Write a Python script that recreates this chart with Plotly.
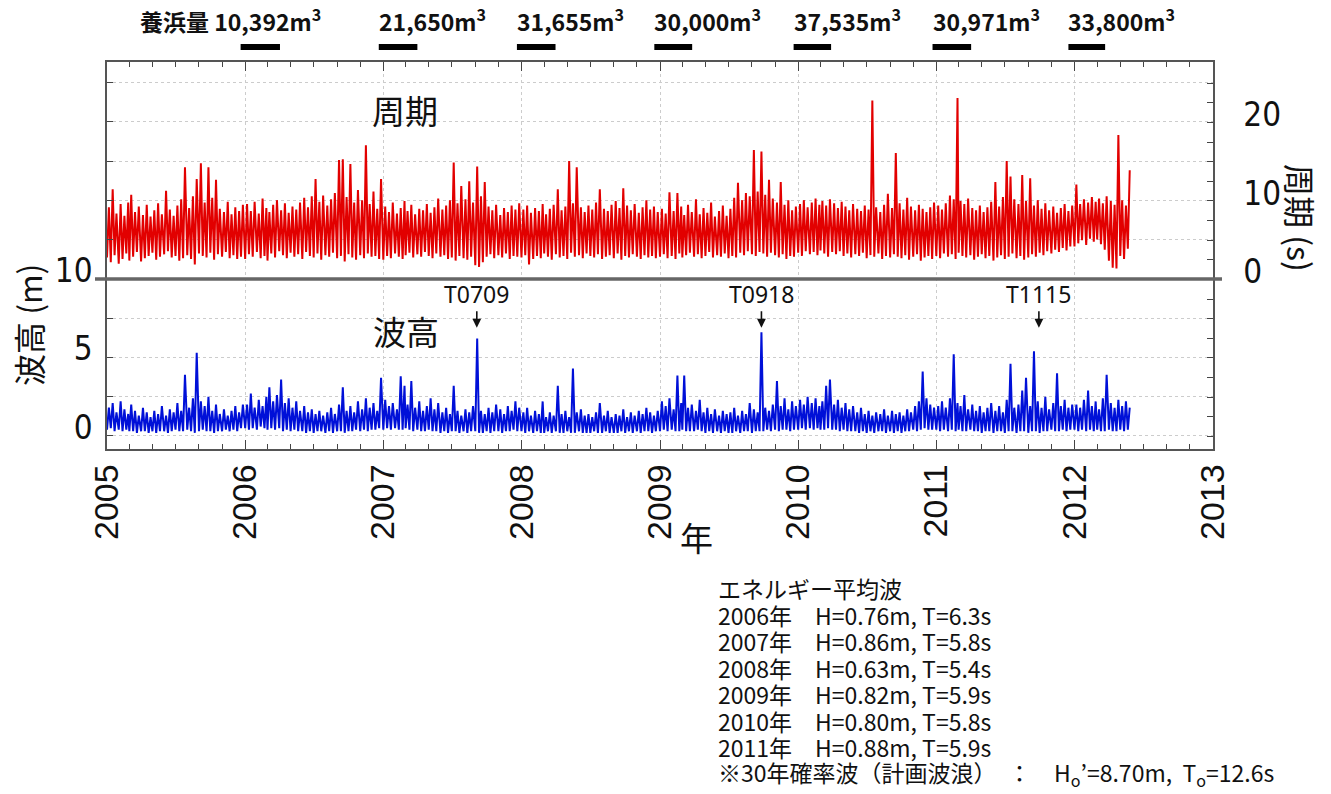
import plotly.graph_objects as go
import pandas as pd

# ---------------- data (10-day bins, Jan 2005 - May 2012) ----------------
# wave period (s): upper / lower envelope of each 10-day bin
period_hi = [
    9.2, 11.5, 8.4, 9.6, 8.1, 9.8, 10.8, 8.6, 9.3, 8.2, 9.5, 8.0, 8.8, 9.7, 8.3, 11.3, 8.9, 8.1, 9.4, 10.2, 14.3, 9.1, 10.6, 12.8, 14.8, 9.8, 14.3, 10.4, 12.7, 9.0, 8.6, 9.9, 8.3, 9.2, 8.7, 9.5,  # 2005
    9.6, 8.7, 9.9, 8.4, 10.3, 9.1, 8.6, 9.5, 10.1, 8.8, 9.7, 8.5, 9.3, 8.9, 9.8, 10.4, 9.2, 10.6, 12.8, 9.9, 10.7, 9.4, 10.2, 11.0, 15.2, 15.3, 10.5, 14.7, 9.8, 11.4, 10.1, 17.1, 9.6, 11.2, 9.0, 12.8,  # 2006
    9.3, 8.6, 9.8, 8.4, 9.1, 10.0, 8.7, 9.5, 8.3, 9.0, 8.8, 9.6, 8.5, 9.2, 10.3, 8.9, 9.4, 10.1, 14.9, 9.7, 11.9, 10.2, 12.5, 9.8, 14.4, 10.6, 12.4, 9.3, 8.8, 9.5, 8.2, 9.1, 8.6, 9.4, 8.9, 9.7,  # 2007
    8.9, 9.4, 8.5, 9.1, 8.7, 9.6, 8.3, 9.0, 9.5, 11.5, 8.8, 9.3, 15.1, 9.7, 14.3, 9.2, 8.6, 9.4, 8.9, 9.8, 11.5, 9.0, 8.7, 9.5, 10.0, 9.1, 11.6, 9.4, 8.8, 9.6, 8.5, 9.2, 10.1, 8.9, 9.3, 8.6,  # 2008
    9.0, 8.4, 11.1, 8.7, 11.0, 9.3, 8.2, 9.5, 8.6, 10.2, 8.3, 9.1, 8.5, 9.8, 8.0, 8.7, 9.4, 8.1, 9.0, 10.4, 12.3, 10.1, 11.0, 10.6, 16.5, 11.2, 16.3, 10.8, 12.7, 10.3, 9.8, 12.4, 9.5, 10.1, 8.8, 9.3,  # 2009
    9.6, 10.1, 9.2, 9.8, 10.3, 9.5, 10.0, 9.4, 10.2, 9.7, 9.1, 9.9, 9.3, 8.8, 9.6, 9.0, 8.7, 9.4, 8.9, 22.8, 9.2, 8.6, 9.5, 10.9, 9.1, 16.1, 9.7, 8.9, 10.4, 9.3, 8.8, 9.5, 9.0, 8.6, 9.2, 9.8,  # 2010
    9.4, 8.9, 9.7, 10.7, 10.2, 23.1, 10.0, 9.6, 10.3, 9.1, 8.8, 9.4, 8.6, 9.2, 9.9, 12.4, 9.3, 10.5, 15.1, 13.1, 10.2, 9.6, 13.3, 10.0, 12.9, 9.4, 10.1, 9.0, 9.7, 8.8, 9.3, 8.5, 9.1, 9.6, 8.7, 9.4,  # 2011
    12.1, 9.6, 10.2, 9.8, 10.5, 9.9, 10.3, 9.7, 10.6, 10.0, 9.5, 18.4, 10.1, 9.4, 13.9,  # 2012
]
period_lo = [
    2.8, 2.2, 3.1, 2.0, 2.6, 3.3, 2.4, 2.9, 3.5, 2.3, 2.7, 3.0, 3.4, 2.5, 2.9, 3.2, 3.6, 2.8, 3.0, 2.4, 2.7, 3.1, 2.6, 1.9, 3.3, 3.0, 2.8, 3.4, 2.5, 3.2, 2.9, 3.5, 2.7, 3.1, 2.6, 2.9,
    2.6, 3.2, 2.9, 3.5, 2.7, 3.0, 2.4, 3.3, 2.8, 3.6, 3.1, 2.7, 3.4, 2.9, 3.2, 2.6, 3.5, 3.0, 2.8, 3.3, 2.5, 3.1, 2.9, 3.4, 2.7, 3.0, 2.3, 3.2, 2.8, 2.5, 3.1, 2.7, 3.3, 2.9, 3.0, 2.6,
    2.5, 3.0, 2.7, 3.3, 2.9, 2.6, 3.1, 3.4, 2.8, 3.2, 2.9, 3.5, 3.0, 2.7, 3.3, 2.9, 3.1, 2.6, 2.8, 2.4, 3.0, 2.7, 2.5, 2.9, 1.8, 1.6, 2.2, 2.9, 3.2, 2.7, 3.1, 2.8, 3.3, 2.6, 3.0, 2.9,
    2.8, 3.1, 1.9, 2.6, 3.0, 2.7, 3.3, 2.9, 2.5, 3.2, 2.8, 3.0, 2.6, 3.4, 2.9, 3.1, 2.7, 3.3, 3.0, 2.8, 3.2, 2.6, 2.9, 3.1, 2.7, 3.3, 2.5, 3.0, 2.8, 3.2, 2.9, 2.6, 3.1, 2.8, 3.0, 2.7,
    2.9, 3.2, 2.7, 3.0, 2.6, 3.3, 2.8, 3.1, 3.4, 2.9, 3.2, 2.7, 3.0, 3.5, 2.8, 3.1, 2.9, 3.3, 2.7, 3.0, 2.8, 3.4, 3.1, 3.6, 3.2, 3.0, 3.5, 3.3, 2.9, 3.4, 3.1, 2.8, 3.2, 2.6, 3.0, 2.9,
    3.4, 3.0, 3.6, 3.2, 3.5, 3.1, 3.7, 3.3, 2.9, 3.5, 3.2, 3.6, 3.0, 3.3, 2.8, 3.2, 3.0, 3.4, 2.7, 3.1, 2.9, 3.3, 2.6, 3.0, 2.8, 3.2, 2.9, 2.7, 3.1, 2.5, 2.9, 3.2, 2.4, 2.8, 3.0, 2.6,
    3.0, 2.7, 3.3, 2.9, 3.2, 2.6, 3.4, 3.0, 2.8, 3.1, 2.5, 2.9, 3.2, 2.7, 3.0, 2.4, 2.8, 3.1, 2.6, 2.9, 3.3, 2.7, 3.0, 2.5, 2.8, 3.2, 2.9, 3.4, 3.1, 3.6, 3.3, 3.8, 3.5, 4.0, 3.7, 4.2,
    4.2, 4.6, 5.0, 4.4, 5.2, 4.8, 5.1, 4.5, 3.8, 2.4, 1.5, 1.4, 3.0, 2.6, 3.9,
]
# wave height (m): upper / lower envelope of each 10-day bin
height_hi = [
    1.8, 2.1, 1.5, 2.2, 1.7, 1.4, 2.0, 1.6, 1.3, 1.8, 1.5, 1.2, 1.6, 1.4, 1.9, 1.3, 1.7, 1.5, 2.1, 1.6, 3.9, 1.8, 2.4, 5.3, 2.2, 1.9, 2.5, 1.6, 2.0, 1.4, 1.7, 1.3, 1.6, 1.9, 1.5, 2.0,
    2.0, 2.7, 1.8, 2.3, 1.9, 2.5, 3.1, 2.2, 2.6, 3.6, 2.1, 2.4, 1.8, 2.2, 1.6, 1.9, 1.5, 1.7, 1.4, 1.6, 1.3, 1.5, 1.8, 1.4, 2.0, 3.1, 1.6, 1.9, 1.5, 2.2, 1.7, 2.4, 1.8, 2.1, 1.6, 3.7,
    2.3, 1.9, 2.1, 1.7, 3.8, 3.2, 2.0, 3.5, 1.8, 2.2, 1.6, 1.9, 2.4, 1.7, 2.1, 1.5, 1.8, 1.4, 3.2, 1.6, 1.3, 1.7, 1.5, 1.9, 6.2, 1.6, 1.4, 1.8, 1.5, 2.0, 1.7, 1.4, 1.9, 1.6, 2.2, 1.8,
    1.5, 1.8, 1.3, 1.6, 1.4, 2.2, 1.2, 1.5, 1.3, 3.2, 1.4, 1.6, 1.2, 4.3, 1.5, 1.7, 1.3, 1.4, 1.2, 1.5, 2.1, 1.3, 1.6, 1.2, 1.4, 1.3, 1.7, 1.2, 1.5, 1.3, 1.6, 1.4, 1.8, 1.5, 1.3, 1.6,
    2.2, 1.9, 2.4, 1.7, 3.85, 2.1, 3.85, 1.8, 2.0, 1.6, 2.3, 1.5, 1.8, 1.4, 1.7, 1.3, 1.6, 1.4, 1.5, 1.8, 1.3, 1.6, 1.4, 2.1, 1.7, 1.5, 6.6, 1.8, 1.6, 2.0, 3.5, 1.9, 2.4, 1.7, 2.2, 1.9,
    2.3, 2.0, 2.5, 2.1, 2.4, 1.9, 2.2, 3.2, 3.6, 2.0, 2.3, 1.8, 2.1, 1.7, 1.9, 1.5, 1.8, 1.4, 1.6, 1.3, 1.5, 1.4, 1.7, 1.3, 1.6, 1.4, 1.5, 1.3, 1.7, 1.5, 1.9, 2.2, 4.1, 2.4, 2.0, 1.8,
    1.9, 2.2, 1.8, 2.4, 5.2, 2.1, 1.9, 2.6, 1.7, 2.0, 1.6, 1.9, 1.5, 1.8, 2.1, 1.6, 1.9, 1.5, 2.3, 4.6, 1.8, 2.0, 2.9, 3.7, 1.9, 5.4, 2.2, 1.8, 2.5, 1.7, 2.1, 4.0, 1.9, 2.3, 1.8, 2.0,
    2.0, 1.8, 2.3, 2.9, 1.9, 2.2, 1.7, 2.4, 3.9, 2.1, 1.8, 2.3, 1.9, 2.2, 1.8,
]
height_lo = [
    0.4, 0.5, 0.3, 0.4, 0.3, 0.4, 0.3, 0.3, 0.2, 0.3, 0.3, 0.2, 0.3, 0.2, 0.3, 0.3, 0.2, 0.3, 0.4, 0.3, 0.3, 0.4, 0.3, 0.2, 0.3, 0.4, 0.3, 0.3, 0.2, 0.3, 0.3, 0.4, 0.3, 0.4, 0.3, 0.5,
    0.5, 0.4, 0.5, 0.4, 0.6, 0.5, 0.4, 0.5, 0.4, 0.5, 0.3, 0.4, 0.3, 0.4, 0.3, 0.3, 0.2, 0.3, 0.2, 0.3, 0.3, 0.2, 0.3, 0.2, 0.3, 0.3, 0.2, 0.3, 0.3, 0.4, 0.3, 0.4, 0.3, 0.4, 0.4, 0.5,
    0.4, 0.5, 0.4, 0.5, 0.4, 0.4, 0.5, 0.4, 0.3, 0.4, 0.3, 0.3, 0.4, 0.3, 0.3, 0.2, 0.3, 0.2, 0.3, 0.3, 0.2, 0.3, 0.2, 0.3, 0.3, 0.2, 0.2, 0.3, 0.2, 0.3, 0.3, 0.2, 0.3, 0.3, 0.4, 0.3,
    0.3, 0.2, 0.3, 0.2, 0.3, 0.2, 0.2, 0.3, 0.2, 0.3, 0.2, 0.2, 0.3, 0.2, 0.2, 0.3, 0.2, 0.2, 0.2, 0.3, 0.2, 0.2, 0.3, 0.2, 0.2, 0.2, 0.3, 0.2, 0.3, 0.2, 0.3, 0.2, 0.3, 0.3, 0.2, 0.3,
    0.3, 0.4, 0.3, 0.4, 0.3, 0.3, 0.4, 0.3, 0.3, 0.3, 0.4, 0.3, 0.2, 0.3, 0.2, 0.3, 0.2, 0.3, 0.2, 0.2, 0.3, 0.2, 0.3, 0.3, 0.2, 0.3, 0.3, 0.3, 0.4, 0.3, 0.4, 0.3, 0.4, 0.4, 0.3, 0.4,
    0.4, 0.5, 0.4, 0.5, 0.4, 0.5, 0.4, 0.4, 0.5, 0.4, 0.4, 0.3, 0.4, 0.3, 0.3, 0.3, 0.2, 0.3, 0.2, 0.3, 0.2, 0.3, 0.3, 0.2, 0.3, 0.2, 0.3, 0.2, 0.3, 0.3, 0.4, 0.3, 0.4, 0.5, 0.4, 0.4,
    0.4, 0.3, 0.4, 0.3, 0.4, 0.3, 0.4, 0.3, 0.3, 0.4, 0.3, 0.3, 0.2, 0.3, 0.3, 0.2, 0.3, 0.3, 0.2, 0.3, 0.3, 0.2, 0.3, 0.3, 0.2, 0.3, 0.3, 0.2, 0.3, 0.3, 0.4, 0.3, 0.3, 0.4, 0.3, 0.4,
    0.4, 0.3, 0.4, 0.3, 0.4, 0.3, 0.4, 0.3, 0.3, 0.4, 0.3, 0.3, 0.4, 0.3, 0.4,
]

# beach nourishment campaigns
nourish_start = ["2005-12-20", "2006-12-20", "2007-12-20", "2008-12-17", "2009-12-20", "2010-12-22", "2011-12-16"]
nourish_end = ["2006-04-03", "2007-04-01", "2008-03-31", "2009-03-27", "2010-03-29", "2011-04-03", "2012-03-22"]
nourish_label = ["養浜量 10,392m<sup>3</sup>", "21,650m<sup>3</sup>", "31,655m<sup>3</sup>", "30,000m<sup>3</sup>",
                 "37,535m<sup>3</sup>", "30,971m<sup>3</sup>", "33,800m<sup>3</sup>"]

# typhoons
typhoon_name = ["T0709", "T0918", "T1115"]
typhoon_date = ["2007-09-05", "2009-09-26", "2011-09-29"]
typhoon_arrow_tip = [6.9, 6.9, 6.9]

energy_lines = [
    "エネルギー平均波",
    "2006年　H=0.76m, T=6.3s",
    "2007年　H=0.86m, T=5.8s",
    "2008年　H=0.63m, T=5.4s",
    "2009年　H=0.82m, T=5.9s",
    "2010年　H=0.80m, T=5.8s",
    "2011年　H=0.88m, T=5.9s",
    "※30年確率波（計画波浪）　：　H<sub>o</sub>’=8.70m,  T<sub>o</sub>=12.6s",
]

# ---------------- build traces ----------------
months = pd.date_range("2005-01-01", "2012-05-01", freq="MS")
bin_start = [m + pd.Timedelta(days=d) for m in months for d in (0, 10, 20)]
x_line = []
for s in bin_start:
    x_line += [s, s + pd.Timedelta(days=5)]


def zig(lo, hi):
    out = []
    for a, b in zip(lo, hi):
        out += [a, b]
    return out


W, H = 1331, 794
L, R, T, B = 107, 1213, 62, 449


def px(xp):
    return (xp - L) / (R - L)


def py(yp):
    return (B - yp) / (B - T)


JP = "Noto Sans CJK JP, Noto Sans, sans-serif"
NUM = "Liberation Sans Narrow, DejaVu Sans Condensed, Arial Narrow, sans-serif"
NUMX = "Liberation Sans, Arial, sans-serif"

fig = go.Figure()
fig.add_trace(go.Scatter(x=x_line, y=zig(period_lo, period_hi), mode="lines",
                         line=dict(color="#e20000", width=2.0), yaxis="y2", hoverinfo="skip"))
fig.add_trace(go.Scatter(x=x_line, y=zig(height_lo, height_hi), mode="lines",
                         line=dict(color="#0010d8", width=2.0), yaxis="y", hoverinfo="skip"))

h_ticks = [i * 2.5 for i in range(10)]
h_text = ["0" if v == 0 else ("5" if v == 5 else ("10" if v == 10 else "")) for v in h_ticks]
p_ticks = [-20 + i * 2.5 for i in range(19)]
p_text = ["0" if v == 0 else ("10" if v == 10 else ("20" if v == 20 else "")) for v in p_ticks]

fig.update_layout(
    width=W, height=H,
    margin=dict(l=L, r=W - R, t=T, b=H - B),
    paper_bgcolor="white", plot_bgcolor="white",
    showlegend=False,
    xaxis=dict(type="date", range=["2005-01-01", "2013-01-01"], dtick="M12", tick0="2005-01-01",
               tickformat="%Y", tickangle=-90, ticks="inside", ticklen=9, tickcolor="#444",
               showline=True, linecolor="#555", linewidth=1.5, mirror="ticks",
               showgrid=True, gridcolor="#cccccc", griddash="dot", gridwidth=1,
               minor=dict(dtick="M2", ticks="inside", ticklen=5, tickcolor="#444", showgrid=False),
               tickfont=dict(family=NUMX, size=34, color="#111"), zeroline=False),
    yaxis=dict(range=[-0.83, 23.82], tickmode="array", tickvals=h_ticks, ticktext=h_text,
               ticks="inside", ticklen=6, tickcolor="#444", showline=True, linecolor="#555", linewidth=1.5,
               showgrid=True, gridcolor="#cccccc", griddash="dot", zeroline=False,
               ticklabelshift=-9, ticklabelstandoff=6,
               tickfont=dict(family=NUM, size=33, color="#111")),
    yaxis2=dict(range=[-21.6, 27.7], overlaying="y", side="right", anchor="x", tickmode="array",
                tickvals=p_ticks, ticktext=p_text, ticks="inside", ticklen=6, tickcolor="#444",
                showline=True, linecolor="#555", linewidth=1.5, showgrid=False, zeroline=False,
                ticklabelshift=-8, ticklabelstandoff=22,
                tickfont=dict(family=NUM, size=33, color="#111")),
)

shapes = []
# separator between the two panels
shapes.append(dict(type="line", xref="paper", yref="y", x0=px(95), x1=px(1222), y0=10, y1=10,
                   line=dict(color="#666666", width=3.5)))
# nourishment bars
for s, e in zip(nourish_start, nourish_end):
    shapes.append(dict(type="rect", xref="x", yref="paper", x0=s, x1=e, y0=py(50), y1=py(44),
                       fillcolor="black", line=dict(width=0)))
fig.update_layout(shapes=shapes)

ann = []
for i, (s, lab) in enumerate(zip(nourish_start, nourish_label)):
    ann.append(dict(x=s, xref="x", y=py(20), yref="paper", text=lab, showarrow=False,
                    xanchor="left", yanchor="middle", xshift=(-103 if i == 0 else -2),
                    font=dict(family=JP, size=23, color="#111", weight="bold")))
for name, d, tip in zip(typhoon_name, typhoon_date, typhoon_arrow_tip):
    ann.append(dict(x=d, xref="x", y=tip, yref="y", text=name, showarrow=True, arrowhead=2,
                    arrowsize=1.1, arrowwidth=1.6, arrowcolor="#111", ax=0, ay=-34,
                    font=dict(family="Noto Sans, sans-serif", size=23, color="#111")))


def label(xp, yp, text, size, angle=0):
    return dict(x=px(xp), y=py(yp), xref="paper", yref="paper", text=text, showarrow=False,
                xanchor="center", yanchor="middle", textangle=angle,
                font=dict(family=JP, size=size, color="#111"))


# in-plot panel labels
ann.append(label(405, 110, "周期", 33))
ann.append(label(406, 331, "波高", 33))
# axis titles
ann.append(label(28, 325, "波高 (m)", 32, -90))
ann.append(label(1301, 218, "周期 (s)", 32, 90))
ann.append(label(696, 537, "年", 33))
# energy-average wave notes
for i, t in enumerate(energy_lines):
    ann.append(dict(x=px(716), y=py(588 + i * 26.5), xref="paper", yref="paper", text=t, showarrow=False,
                    xanchor="left", yanchor="middle", font=dict(family=JP, size=23, color="#111")))
fig.update_layout(annotations=ann)

fig.write_html("out.html", config={"displayModeBar": False},
               post_script="document.body.style.margin='0';document.body.style.overflow='hidden';")
